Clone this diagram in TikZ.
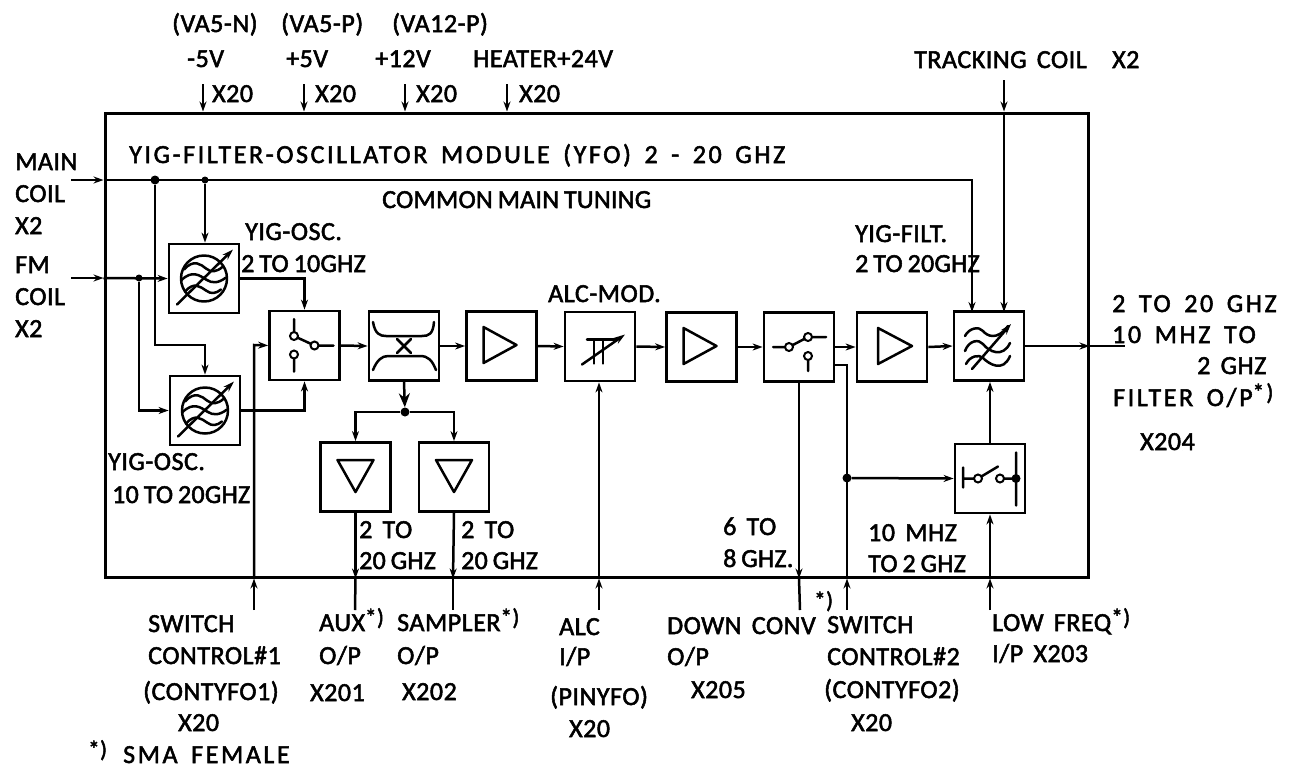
\documentclass[tikz,border=0pt]{standalone}
\usepackage{fontspec}
\setmainfont[LetterSpace=2,WordSpace=1.6,FakeBold=2]{Carlito}
\newfontfamily\tightfont[LetterSpace=1,WordSpace=0.8,FakeBold=2]{Carlito}
\usepackage{xcolor}
\usepackage{tikz}
\usetikzlibrary{arrows.meta, calc, positioning}
\newcommand{\starmark}{\raisebox{6pt}{\fontsize{23}{23}\selectfont *)}}

\begin{document}
\begin{tikzpicture}[x=1pt,y=-1pt,
  every node/.style={font=\fontsize{26}{26}\selectfont},
  block/.style={draw, line width=2.8pt, minimum width=70pt, minimum height=69pt, inner sep=0pt},
  wire/.style={line width=2.5pt},
  tip/.style={wire, -{Stealth[length=10pt,width=7pt]}},
  sym/.style={line width=2.5pt, line cap=round, line join=round},
  dot/.style={circle, fill=black, inner sep=0pt, minimum size=9pt},
  ring/.style={draw, circle, fill=white, line width=2pt, inner sep=0pt, minimum size=8pt},
  lbl/.style={anchor=base west, inner sep=0pt},
  widelbl/.style={lbl, font=\fontsize{26}{26}\selectfont\addfontfeature{LetterSpace=10}},
  tightlbl/.style={lbl, font=\fontsize{26}{26}\tightfont}]
\useasboundingbox (0,0) rectangle (1294,769);

% Module frame
\node[draw, line width=3pt, minimum width=983pt, minimum height=464pt, inner sep=0pt] (frame) at (596.5,345) {};

% Blocks
\node[block] (osc1) at (204,278.5) {};
\node[block] (osc2) at (205,410.5) {};
\node[block] (sw1) at (304.5,345.5) {};
\node[block] (coup) at (404,346) {};
\node[block] (amp1) at (501.5,346) {};
\node[block] (alc) at (600,346.5) {};
\node[block] (amp2) at (701.5,347) {};
\node[block] (sw2) at (799,347) {};
\node[block] (amp3) at (892,347) {};
\node[block] (filt) at (989,346) {};
\node[block] (sw3) at (990,478.5) {};
\node[block] (aux) at (355.5,477) {};
\node[block] (sampler) at (454,477) {};

% Oscillator symbols
\foreach \osc in {osc1,osc2} {
  \draw[sym,shift={(\osc)}] (0,0) circle (23);
  \draw[sym,shift={(\osc)}] (-20,-9) .. controls (-10,-20) and (-3,-14) .. (2,-10) .. controls (7,-6) and (12,-6) .. (19,-12);
  \draw[sym,shift={(\osc)}] (-23,2) .. controls (-12,-9) and (-4,-3) .. (2,1) .. controls (8,5) and (14,5) .. (22,-1);
  \draw[sym,shift={(\osc)}] (-19,13) .. controls (-10,3) and (-4,8) .. (2,12) .. controls (7,16) and (12,15) .. (17,11);
  \draw[sym,-{Stealth[length=11pt,width=7pt]},shift={(\osc)}] (-27,26) -- (29,-29);
}

% Switch symbols
\draw[sym,shift={(sw1)}] (-10.5,-26.5) -- (-10.5,-9.5) -- (10,0) -- (29,0) (-10.5,9) -- (-10.5,26);
\node[ring] (sw1a) at ($(sw1)+(-10.5,-9.5)$) {};
\node[ring] (sw1b) at ($(sw1)+(10,0)$) {};
\node[ring] (sw1c) at ($(sw1)+(-10.5,9)$) {};
\draw[sym,shift={(sw2)}] (-26,0) -- (-10,0) -- (9,-10) -- (27,-10) (9,9) -- (9,24);
\node[ring] (sw2a) at ($(sw2)+(-10,0)$) {};
\node[ring] (sw2b) at ($(sw2)+(9,-10)$) {};
\node[ring] (sw2c) at ($(sw2)+(9,9)$) {};
\draw[sym,shift={(sw3)}] (-27,-11) -- (-27,9) (-27,0) -- (-12,0) -- (8,-12) (10,0) -- (26,0) (26,-26) -- (26,27);
\node[ring] (sw3a) at ($(sw3)+(-12,0)$) {};
\node[ring] (sw3b) at ($(sw3)+(10,0)$) {};
\node[dot] (sw3c) at ($(sw3)+(26,0)$) {};

% Coupler
\draw[sym,shift={(coup)}] (-31,-24) .. controls (-29,-12) and (-24,-10) .. (-18,-10) -- (18,-10) .. controls (25,-10) and (29,-12) .. (30,-24);
\draw[sym,shift={(coup)}] (-31,24) .. controls (-27,14) and (-22,10) .. (-16,10) -- (16,10) .. controls (24,10) and (28,14) .. (32,24);
\draw[sym,shift={(coup)}] (-7,-7) -- (7,7) (-7,7) -- (7,-7);

% Amplifier triangles
\foreach \amp in {amp1,amp2} {
  \draw[sym,shift={(\amp)}] (-18,-19) -- (-18,17) -- (15,-1) -- cycle;
}
\draw[sym,shift={(amp3)}] (-14,-19) -- (-14,17) -- (20,-1) -- cycle;
\foreach \amp in {aux,sampler} {
  \draw[sym,shift={(\amp)}] (-18,-17) -- (18,-17) -- (0,15) -- cycle;
}

% Modulator
\draw[sym,shift={(alc)}] (-13,-7) -- (17,-7) (-6,-7) -- (-6,17) (3,-7) -- (3,17);
\draw[sym,-{Stealth[length=11pt,width=7pt]},shift={(alc)}] (-18,18) -- (25,-12);

% Filter symbol
\draw[sym,shift={(filt)}] (-24,-10) .. controls (-20,-18) and (-10,-20) .. (-6,-15) .. controls (-2,-10) and (8,-5) .. (19,-20);
\draw[sym,shift={(filt)}] (-24,5) .. controls (-20,-6) and (-10,-7) .. (-6,-2) .. controls (0,6) and (14,12) .. (21,-3);
\draw[sym,shift={(filt)}] (-23,18) .. controls (-19,10) and (-10,8) .. (-6,12) .. controls (0,18) and (14,27) .. (21,10);
\draw[sym,-{Stealth[length=11pt,width=7pt]},shift={(filt)}] (-17,23) -- (22,-22);

% Free ends and tapping points
\coordinate (mainin) at (71,180);
\coordinate (fmin) at (71,278);
\coordinate (outfree) at (1125,346);
\coordinate (sw1free) at (254,610);
\coordinate (sw1hit) at (254,345);
\coordinate (auxfree) at (355,610);
\coordinate (samplerfree) at (453,610);
\coordinate (alcfree) at (599,610);
\coordinate (sw2free) at (800,610);
\coordinate (sw2tap) at (833,365);
\coordinate (sw2ctl) at (847,610);
\coordinate (lowfree) at (990,610);
\coordinate (trackfree) at (1004,80);
\coordinate (filtmain) at (972,312);
\coordinate (filttrack) at (1004,312);
\coordinate (osc2bend) at (205,345);

% Supply arrows
\foreach \name/\xa in {vn/203,vp/304,vt/405,vh/507} {
  \coordinate (\name) at (\xa,84);
  \draw[tip] (\name) -- (\name |- frame.north);
}

% Main and FM tuning
\node[dot] (maintap) at (155,180) {};
\node[dot, minimum size=7pt] (osctap) at (205,180) {};
\node[dot, minimum size=7pt] (fmtap) at (139,278) {};
\draw[tip] (mainin) -- (frame.west |- mainin);
\draw[tip] (frame.west |- mainin) -| (filtmain);
\draw[tip] (osctap) -- (osctap |- osc1.north);
\draw[tip] (maintap) |- (osc2bend) -- (osc2.north);
\draw[tip] (fmin) -- (frame.west |- fmin);
\draw[tip] (frame.west |- fmin) -- (osc1.west);
\draw[tip] (fmtap) |- (osc2.west);

% Signal chain
\draw[tip] (osc1.east) -| (sw1.north);
\draw[tip] (osc2.east) -| (sw1.south);
\draw[tip] (sw1.east) -- (coup.west);
\draw[tip] (coup.east) -- (amp1.west);
\draw[tip] (amp1.east) -- (alc.west);
\draw[tip] (alc.east) -- (amp2.west);
\draw[tip] (amp2.east) -- (sw2.west);
\draw[tip] (sw2.east) -- (amp3.west);
\draw[tip] (amp3.east) -- (filt.west);
\draw[tip] (filt.east) -- (frame.east |- filt.east);
\draw[wire] (frame.east |- filt.east) -- (outfree);

% Coupler outputs
\node[dot] (split) at (405,412) {};
\draw[-{Stealth[length=14pt,width=11pt]},wire] (coup.south) -- (split);
\draw[tip] (split) -| (aux.north);
\draw[tip] (split) -| (sampler.north);
\draw[tip] (aux.south) -- (aux.south |- frame.south);
\draw[wire] (aux.south |- frame.south) -- (auxfree);
\draw[tip] (sampler.south) -- (samplerfree |- frame.south);
\draw[wire] (samplerfree |- frame.south) -- (samplerfree);

% Control inputs
\draw[tip] (sw1free) -- (sw1free |- frame.south);
\draw[tip] (sw1free |- frame.south) -- (sw1hit) -- (sw1.west);
\draw[tip] (alcfree) -- (alcfree |- frame.south);
\draw[tip] (alcfree |- frame.south) -- (alc.south -| alcfree);
\draw[tip] (sw2.south) -- (sw2.south |- frame.south);
\draw[wire] (sw2.south |- frame.south) -- (sw2free);
\node[dot] (sw3tap) at (847,478) {};
\draw[tip] (sw2ctl) -- (sw2ctl |- frame.south);
\draw[wire] (sw2ctl |- frame.south) |- (sw2tap);
\draw[tip] (sw3tap) -- (sw3.west);
\draw[tip] (lowfree) -- (lowfree |- frame.south);
\draw[tip] (lowfree |- frame.south) -- (sw3.south);
\draw[tip] (sw3.north) -- (filt.south -| sw3.north);
\draw[tip] (trackfree) -- (trackfree |- frame.north);
\draw[tip] (trackfree |- frame.north) -- (filttrack);

% Texts above the module
\node[lbl] (tva1) at (172,32) {(VA5-N)};
\node[lbl] (tva2) at (281,32) {(VA5-P)};
\node[lbl] (tva3) at (392,32) {(VA12-P)};
\node[lbl] (tm5) at (187,67) {-5V};
\node[lbl] (tp5) at (286,67) {+5V};
\node[lbl] (tp12) at (375,67) {+12V};
\node[lbl] (theat) at (473,67) {HEATER+24V};
\node[lbl] (tx1) at (212,102) {X20};
\node[lbl] (tx2) at (315,102) {X20};
\node[lbl] (tx3) at (416,102) {X20};
\node[lbl] (tx4) at (519,102) {X20};
\node[lbl] (ttrack) at (914,68) {TRACKING COIL};
\node[lbl] (tx5) at (1112,68) {X2};

% Texts on the left
\node[lbl] (tmain) at (15,170) {MAIN};
\node[lbl] (tcoil) at (15,202) {COIL};
\node[lbl] (tx6) at (15,234) {X2};
\node[lbl] (tfm) at (15,273) {FM};
\node[lbl] (tcoil2) at (15,305) {COIL};
\node[lbl] (tx7) at (15,337) {X2};

% Texts inside the module
\node[widelbl] (ttitle) at (129,163) {YIG-FILTER-OSCILLATOR MODULE (YFO) 2 - 20 GHZ};
\node[tightlbl] (ttune) at (382,208) {COMMON MAIN TUNING};
\node[lbl] (tosc1) at (245,240) {YIG-OSC.};
\node[tightlbl] (tosc1b) at (241,272) {2 TO 10GHZ};
\node[lbl] (tosc2) at (108,470) {YIG-OSC.};
\node[tightlbl] (tosc2b) at (112,503) {10 TO 20GHZ};
\node[lbl] (talc) at (548,302) {ALC-MOD.};
\node[lbl] (tfilt) at (855,242) {YIG-FILT.};
\node[tightlbl] (tfiltb) at (855,272) {2 TO 20GHZ};
\node[lbl] (taux1) at (359,538) {2 TO};
\node[tightlbl] (taux2) at (359,569) {20 GHZ};
\node[lbl] (tsam1) at (461,538) {2 TO};
\node[tightlbl] (tsam2) at (461,569) {20 GHZ};
\node[lbl] (tsix) at (723,535) {6 TO};
\node[tightlbl] (tsixb) at (723,567) {8 GHZ.};
\node[lbl] (tlow) at (868,541) {10 MHZ};
\node[tightlbl] (tlowb) at (868,572) {TO 2 GHZ};

% Texts on the right
\node[widelbl] (tr1) at (1112,312) {2 TO 20 GHZ};
\node[widelbl] (tr2) at (1112,343) {10 MHZ TO};
\node[lbl] (tr3) at (1197,374) {2 GHZ};
\node[widelbl] (tr4) at (1113,406) {FILTER O/P\starmark};
\node[lbl] (tr5) at (1140,450) {X204};

% Texts below the module
\node[lbl] (tb1) at (148,632) {SWITCH};
\node[lbl] (tb2) at (148,664) {CONTROL\#1};
\node[lbl] (tb3) at (143,700) {(CONTYFO1)};
\node[lbl] (tb4) at (178,731) {X20};
\node[lbl] (tb5) at (88,763) {\starmark};
\node[widelbl] (tb6) at (123,763) {SMA FEMALE};
\node[lbl] (tc1) at (319,631) {AUX\starmark};
\node[lbl] (tc2) at (319,664) {O/P};
\node[lbl] (tc3) at (310,701) {X201};
\node[lbl] (td1) at (397,631) {SAMPLER\starmark};
\node[lbl] (td2) at (397,664) {O/P};
\node[lbl] (td3) at (402,700) {X202};
\node[lbl] (te1) at (559,635) {ALC};
\node[lbl] (te2) at (559,665) {I/P};
\node[lbl] (te3) at (550,705) {(PINYFO)};
\node[lbl] (te4) at (569,737) {X20};
\node[lbl] (tf1) at (667,634) {DOWN CONV};
\node[lbl] (tfs) at (814,614) {\starmark};
\node[lbl] (tf2) at (667,665) {O/P};
\node[lbl] (tf3) at (691,698) {X205};
\node[lbl] (tg1) at (827,633) {SWITCH};
\node[lbl] (tg2) at (827,665) {CONTROL\#2};
\node[lbl] (tg3) at (824,698) {(CONTYFO2)};
\node[lbl] (tg4) at (851,731) {X20};
\node[lbl] (th1) at (992,631) {LOW FREQ\starmark};
\node[lbl] (th2) at (992,662) {I/P X203};
\end{tikzpicture}
\end{document}
